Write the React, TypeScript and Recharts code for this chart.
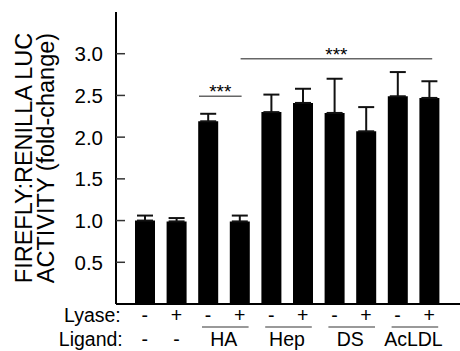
import React from 'react';
import { BarChart, Bar, XAxis, YAxis, ErrorBar, ReferenceLine } from 'recharts';

// one bar per condition: lyase treatment and ligand
const lyase = ['-', '+', '-', '+', '-', '+', '-', '+', '-', '+'];
const ligand = ['-', '-', 'HA', 'HA', 'Hep', 'Hep', 'DS', 'DS', 'AcLDL', 'AcLDL'];
const activity = [1.0, 0.99, 2.19, 0.99, 2.3, 2.41, 2.29, 2.07, 2.49, 2.47];
const sem = [0.06, 0.04, 0.09, 0.07, 0.21, 0.17, 0.41, 0.29, 0.29, 0.2];
const yTicks = [0.5, 1.0, 1.5, 2.0, 2.5, 3.0];

// significance brackets: from bar index, to bar index, height
const sigFrom = [2, 3];
const sigTo = [3, 9];
const sigY = [2.49, 2.94];
const sigLabel = ['***', '***'];

const names = lyase.map((l, i) => `${ligand[i]} ${l}`);
// upper error only
const data = names.map((name, i) => ({ name, value: activity[i], err: [0, sem[i]] }));

const FONT = '"Liberation Sans", Arial, Helvetica, sans-serif';
const W = 470;
const H = 351;
const M = { top: 12, right: 9, bottom: 0, left: 56 };
const YW = 60;
const PAD = { left: 13, right: 16 };
const BAND = (W - M.left - M.right - YW - PAD.left - PAD.right) / names.length;

const LeftTick = (props: any) => {
  const { x, y, payload } = props;
  return (
    <g>
      <line x1={x} x2={x + 9} y1={y} y2={y} stroke="#333" strokeWidth={1.5} />
      <text x={x - 13} y={y} dy="0.36em" textAnchor="end" fontSize={20.5} fill="#000" fontFamily={FONT}>
        {Number(payload.value).toFixed(1)}
      </text>
    </g>
  );
};

const RightTick = (props: any) => {
  const { x, y } = props;
  return <line x1={x - 9} x2={x} y1={y} y2={y} stroke="#333" strokeWidth={1.5} />;
};

const BottomTick = (props: any) => {
  const { x, y, index } = props;
  const lig = ligand[index];
  const pairEnd = index > 0 && lig !== '-' && ligand[index - 1] === lig;
  const txt = { fontSize: 19.5, fill: '#000', fontFamily: FONT } as const;
  return (
    <g>
      <text x={x} y={y + 18} textAnchor="middle" {...txt}>{lyase[index]}</text>
      {lig === '-' && (
        <text x={x} y={y + 42} textAnchor="middle" {...txt}>-</text>
      )}
      {pairEnd && (
        <>
          <line x1={x - BAND - 6} x2={x + 9} y1={y + 23} y2={y + 23} stroke="#777" strokeWidth={1.5} />
          <text x={x - BAND / 2} y={y + 42} textAnchor="middle" {...txt}>{lig}</text>
        </>
      )}
      {index === 0 && (
        <>
          <text x={x - 24} y={y + 18} textAnchor="end" {...txt}>Lyase:</text>
          <text x={x - 22} y={y + 42} textAnchor="end" {...txt}>Ligand:</text>
        </>
      )}
    </g>
  );
};

const sigShape = (label: string, dl: number, dr: number) => (props: any) => {
  const { x1, y1, x2 } = props;
  const a = Math.min(x1, x2) + dl;
  const b = Math.max(x1, x2) + dr;
  return (
    <g>
      <line x1={a} x2={b} y1={y1} y2={y1} stroke="#666" strokeWidth={1.5} />
      <text x={(a + b) / 2} y={y1 + 2} textAnchor="middle" fontSize={19} fill="#000" fontFamily={FONT}>
        {label}
      </text>
    </g>
  );
};
const sigPadL = [-9, 1];
const sigPadR = [2, 3];

const YLabel = (props: any) => {
  const cy = props.viewBox ? props.viewBox.y + props.viewBox.height / 2 : 158;
  const t = { fontSize: 23.5, fill: '#000', fontFamily: FONT, textAnchor: 'middle' } as const;
  return (
    <g>
      <text x={24} y={cy} dy="0.36em" transform={`rotate(-90 24 ${cy})`} {...t}>FIREFLY:RENILLA LUC</text>
      <text x={46} y={cy} dy="0.36em" transform={`rotate(-90 46 ${cy})`} {...t}>ACTIVITY (fold-change)</text>
    </g>
  );
};

export default function App() {
  return (
    <div style={{ position: 'fixed', left: 0, top: 0, width: 460, height: 351, overflow: 'hidden', background: '#fff', fontFamily: FONT }}>
      <BarChart width={W} height={H} data={data} margin={M} barSize={20}>
        <XAxis
          dataKey="name"
          interval={0}
          height={47}
          padding={PAD}
          axisLine={{ stroke: '#000', strokeWidth: 2 }}
          tickLine={false}
          tickSize={0}
          tickMargin={0}
          tick={<BottomTick />}
        />
        <XAxis
          xAxisId="top"
          orientation="top"
          dataKey="name"
          height={0}
          padding={PAD}
          axisLine={{ stroke: '#000', strokeWidth: 2 }}
          tickLine={false}
          tick={false}
        />
        <YAxis
          domain={[0, 3.5]}
          ticks={yTicks}
          width={YW}
          axisLine={{ stroke: '#000', strokeWidth: 2 }}
          tickLine={false}
          tickSize={0}
          tickMargin={0}
          tick={<LeftTick />}
          label={{ content: <YLabel /> }}
        />
        <YAxis
          yAxisId="right"
          orientation="right"
          domain={[0, 3.5]}
          ticks={yTicks}
          width={0}
          axisLine={{ stroke: '#000', strokeWidth: 2 }}
          tickLine={false}
          tickSize={0}
          tickMargin={0}
          tick={<RightTick />}
        />
        <Bar dataKey="value" fill="#000" isAnimationActive={false}>
          <ErrorBar dataKey="err" width={8} stroke="#111" strokeWidth={2} direction="y" isAnimationActive={false} />
        </Bar>
        {sigFrom.map((f, i) => (
          <ReferenceLine
            key={i}
            segment={[{ x: names[f], y: sigY[i] }, { x: names[sigTo[i]], y: sigY[i] }]}
            shape={sigShape(sigLabel[i], sigPadL[i], sigPadR[i])}
          />
        ))}
      </BarChart>
    </div>
  );
}
